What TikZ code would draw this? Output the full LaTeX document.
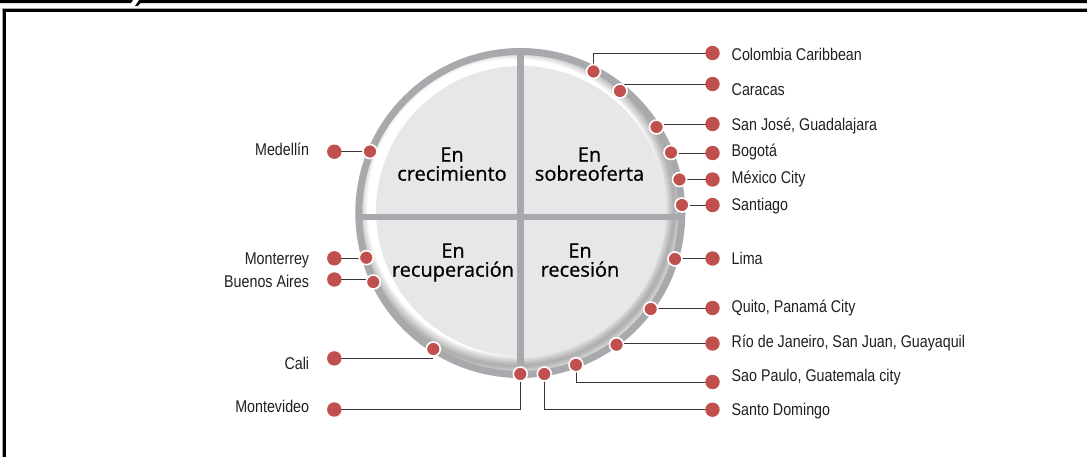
\documentclass[tikz,border=0pt]{standalone}
\usepackage{fontspec}
\setmainfont{Liberation Sans}
\newfontfamily\lblfont[FakeStretch=0.84]{Liberation Sans}
\newfontfamily\quadfont[FakeBold=0.7]{Open Sans}
\usetikzlibrary{calc}
\definecolor{dotred}{RGB}{192,80,77}
\definecolor{ringgray}{RGB}{167,169,172}
\definecolor{diskgray}{RGB}{230,231,232}
\definecolor{ink}{RGB}{35,31,32}
\pgfdeclarelayer{bg}
\pgfdeclarelayer{links}
\pgfsetlayers{bg,links,main}
\begin{document}
\begin{tikzpicture}[x=1pt,y=-1pt,
  labeldot/.style={circle,fill=dotred,inner sep=0pt,minimum size=14.4pt},
  ringdot/.style={circle,fill=dotred,draw=white,line width=1.6pt,inner sep=0pt,minimum size=14pt},
  lblR/.style={anchor=base west,inner sep=0pt,font=\lblfont\fontsize{17}{20}\selectfont,text=ink},
  lblL/.style={lblR,anchor=base east},
  quad/.style={anchor=base,align=center,inner sep=0pt,font=\quadfont\fontsize{20}{19}\selectfont,text=black},
  conn/.style={draw=ink!90,line width=0.9pt},
  divider/.style={draw=ringgray,line width=6.5pt},
]
\useasboundingbox (0,0) rectangle (1087,456);
\coordinate (c) at (520.3,213);

\begin{pgfonlayer}{bg}
  \fill[white] (0,0) rectangle (1087,456);
  % top bar
  \fill[black] (0,0) -- (133,0) -- (131,3) -- (0,3) -- cycle;
  \fill[black] (139,0) -- (1087,0) -- (1087,3) -- (140.5,3) -- (137.5,6) -- (135,6) -- cycle;
  % frame
  \draw[gray!70,line width=1pt] (2,460) -- (2,8.3) -- (1090,8.3);
  \draw[black,line width=2.6pt,line join=miter] (4.6,460) -- (4.6,10.3) -- (1090,10.3);
  % circle body
  \fill[white] (c) circle[radius=162pt];
  \begin{scope}
    \clip (c) circle[radius=159pt];
    \foreach \w in {2,4,...,22}
      \draw[black,opacity=0.03,line width=\w pt] ($(c)+(-5,-6)$) circle[radius=159pt];
  \end{scope}
  \fill[diskgray] (521,211) circle[radius=145pt];
  \draw[divider] (520.3,52) -- (520.3,374);
  \draw[divider] (359,217) -- (682,217);
  \draw[ringgray,line width=7pt] (c) circle[radius=161.5pt];
\end{pgfonlayer}

% quadrant texts (base = baseline of the last line)
\node[quad] (qcre) at (452,180.7) {En\\crecimiento};
\node[quad] (qsob) at (589.5,180.7) {En\\sobreoferta};
\node[quad] (qrec) at (453,276.7) {En\\recuperación};
\node[quad] (qres) at (580,276.7) {En\\recesión};

% ring dots
\node[ringdot] (rcol) at (593.5,71.5) {};
\node[ringdot] (rcar) at (620,91) {};
\node[ringdot] (rsjo) at (656.5,127) {};
\node[ringdot] (rbog) at (671,152.5) {};
\node[ringdot] (rmex) at (679.5,179.5) {};
\node[ringdot] (rsan) at (682,205) {};
\node[ringdot] (rlim) at (675,259) {};
\node[ringdot] (rqui) at (650.7,309) {};
\node[ringdot] (rrio) at (616.5,344.7) {};
\node[ringdot] (rsao) at (576,364.8) {};
\node[ringdot] (rsdo) at (544.3,374) {};
\node[ringdot] (rmtv) at (520.3,374) {};
\node[ringdot] (rcal) at (433.3,349) {};
\node[ringdot] (rbue) at (373.3,282) {};
\node[ringdot] (rmty) at (366.3,257.7) {};
\node[ringdot] (rmed) at (370,151.5) {};

% label dots
\node[labeldot] (lcol) at (712.5,53) {};
\node[labeldot] (lcar) at (712.5,84) {};
\node[labeldot] (lsjo) at (712.5,124) {};
\node[labeldot] (lbog) at (712.5,153) {};
\node[labeldot] (lmex) at (712.5,179.5) {};
\node[labeldot] (lsan) at (712.5,205) {};
\node[labeldot] (llim) at (712.5,258.5) {};
\node[labeldot] (lqui) at (712.5,308) {};
\node[labeldot] (lrio) at (712.5,343.5) {};
\node[labeldot] (lsao) at (712.5,382) {};
\node[labeldot] (lsdo) at (712.5,409.7) {};
\node[labeldot] (lmed) at (334.3,151.7) {};
\node[labeldot] (lmty) at (334.3,258.3) {};
\node[labeldot] (lbue) at (334.3,279.5) {};
\node[labeldot] (lcal) at (334.3,358.4) {};
\node[labeldot] (lmtv) at (334.3,409.5) {};

% labels
\node[lblR] (tcol) at (731.5,60) {Colombia Caribbean};
\node[lblR] (tcar) at (731.5,95.7) {Caracas};
\node[lblR] (tsjo) at (731.5,130.7) {San José, Guadalajara};
\node[lblR] (tbog) at (731.5,156) {Bogotá};
\node[lblR] (tmex) at (731.5,183.3) {México City};
\node[lblR] (tsan) at (731.5,210) {Santiago};
\node[lblR] (tlim) at (731.5,264.3) {Lima};
\node[lblR] (tqui) at (731.5,312.7) {Quito, Panamá City};
\node[lblR] (trio) at (731.5,347.3) {Río de Janeiro, San Juan, Guayaquil};
\node[lblR] (tsao) at (731.5,381.7) {Sao Paulo, Guatemala city};
\node[lblR] (tsdo) at (731.5,415.7) {Santo Domingo};
\node[lblL] (tmed) at (309.3,155.3) {Medellín};
\node[lblL] (tmty) at (309.3,264.3) {Monterrey};
\node[lblL] (tbue) at (309.3,287.7) {Buenos Aires};
\node[lblL] (tcal) at (309.3,369) {Cali};
\node[lblL] (tmtv) at (309.3,412) {Montevideo};

% connectors
\begin{pgfonlayer}{links}
  \draw[conn] (rcol.center) |- (lcol.center);
  \draw[conn] (lcar.center) -- (lcar.center -| rcar.center);
  \draw[conn] (lsjo.center) -- (lsjo.center -| rsjo.center);
  \draw[conn] (lbog.center) -- (lbog.center -| rbog.center);
  \draw[conn] (lmex.center) -- (lmex.center -| rmex.center);
  \draw[conn] (lsan.center) -- (lsan.center -| rsan.center);
  \draw[conn] (llim.center) -- (llim.center -| rlim.center);
  \draw[conn] (lqui.center) -- (lqui.center -| rqui.center);
  \draw[conn] (lrio.center) -- (lrio.center -| rrio.center);
  \draw[conn] (rsao.center) |- (lsao.center);
  \draw[conn] (rsdo.center) |- (lsdo.center);
  \draw[conn] (rmtv.center) |- (lmtv.center);
  \draw[conn] (lcal.center) -- (lcal.center -| rcal.center);
  \draw[conn] (lbue.center) -- (lbue.center -| rbue.center);
  \draw[conn] (lmty.center) -- (lmty.center -| rmty.center);
  \draw[conn] (lmed.center) -- (lmed.center -| rmed.center);
\end{pgfonlayer}
\end{tikzpicture}
\end{document}
